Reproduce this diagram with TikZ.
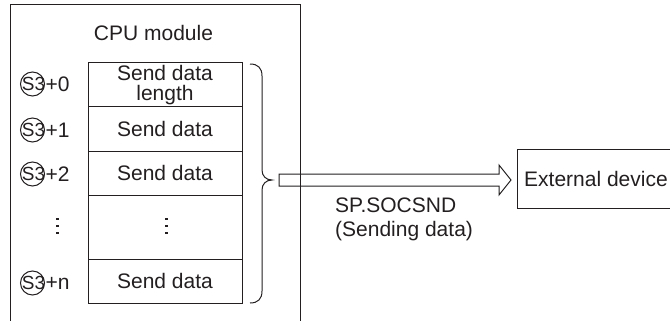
\documentclass[tikz,border=0pt]{standalone}
\usepackage{fontspec}
\setmainfont{Liberation Sans}
\usetikzlibrary{calc}
\definecolor{ink}{HTML}{231F20}
\begin{document}
\begin{tikzpicture}[x=1pt,y=-1pt,
  every node/.style={text=ink},
  ln/.style={draw=ink,line width=1pt},
  cell/.style={ln,rectangle,inner sep=0pt,minimum width=154pt,minimum height=44pt,font=\fontsize{21}{19.5}\selectfont,align=center},
  sthree/.style={ln,circle,inner sep=0pt,minimum size=24pt},
  stxt/.style={font=\fontsize{19}{19}\selectfont,inner sep=0pt},
  off/.style={font=\fontsize{21}{21}\selectfont,anchor=west,inner sep=0pt},
  vdots/.style={fill=ink,inner sep=0pt,minimum size=2.6pt,rectangle}]
\useasboundingbox (0,0) rectangle (670,321);
\clip (0,0) rectangle (670,321);
% outer CPU box
\draw[ln] (10,330) -- (10,5) -- (300,5) -- (300,330);
\node[font=\fontsize{21}{21}\selectfont] (cpu) at (153.5,33) {CPU module};
% table
\node[cell] (r0) at (165,85) {Send data\\length};
\node[cell] (r1) at (165,129) {Send data};
\node[cell] (r2) at (165,173) {Send data};
\node[cell,minimum height=64pt] (r3) at (165,227) {};
\node[cell] (r4) at (165,281) {Send data};
% dots
\foreach \y in {219,226,233}{
  \node[vdots] at (57.5,\y) {};
  \node[vdots] at (166.5,\y) {};
}
% labels
\foreach \n/\y/\t in {a/84/+0,b/130/+1,c/174/+2,d/283/+n}{
  \node[sthree] (c\n) at (32.5,\y) {};
  \node[stxt] (s\n) at (33.5,\y) {S3};
  \node[off] (o\n) at (45.5,\y) {\t};
}
% brace
\coordinate (btip) at (272,180);
\draw[ln] (250,64) .. controls (258,64) and (262,68) .. (262,76) -- (262,170)
  .. controls (262,176) and (266,180) .. (btip)
  .. controls (266,180) and (262,184) .. (262,190) -- (262,291)
  .. controls (262,299) and (258,303) .. (250,303);
% external device
\node[ln,rectangle,minimum height=59pt,minimum width=170pt,anchor=west,inner sep=0pt] (ext) at (517,178.5) {};
\node[off] (extt) at (524,179) {External device};
% double arrow
\coordinate (as) at ($(btip)+(7,0)$);
\coordinate (ae) at ($(ext.west)+(-6,1.5)$);
\draw[ln,line join=miter] ($(as)+(0,-6)$) -- ($(ae)+(-12,-6)$) -- ($(ae)+(-12,-15)$) -- (ae)
  -- ($(ae)+(-12,15)$) -- ($(ae)+(-12,6)$) -- ($(as)+(0,6)$) -- cycle;
% label
\node[anchor=north west,inner sep=0pt,align=left,font=\fontsize{21}{24}\selectfont] (lbl) at (335,198) {SP.SOCSND\\(Sending data)};
\end{tikzpicture}
\end{document}
